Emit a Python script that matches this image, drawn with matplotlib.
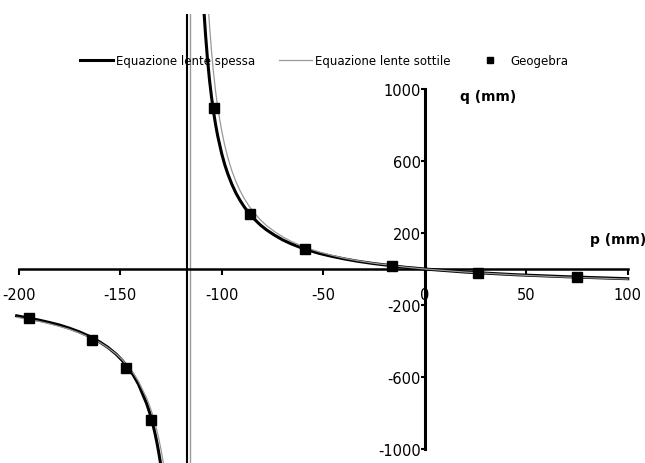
import numpy as np
import matplotlib
matplotlib.use('Agg')
import matplotlib.pyplot as plt

plt.rcParams['axes.unicode_minus'] = False

# values
# thick lens equation (black curve), two branches
p_spessa_dx = [-109.1, -108.6, -108, -107, -106, -105, -104, -103, -102, -100, -98.5, -97, -95, -93, -91,
               -89, -86.5, -84, -81, -78, -74, -70, -66, -62, -57, -52, -46, -40, -33, -25, -10, 0, 20, 45, 70, 100]
q_spessa_dx = [1500, 1409, 1308, 1166, 1050, 954, 872, 802, 741, 641, 580, 529, 471, 422, 382,
               347, 309, 278, 245, 218, 188, 162, 141, 123, 104, 87, 71, 57, 43, 30, 10, 0, -17, -32, -43, -54]
p_spessa_sx = [-201, -190, -185, -180, -175, -170, -165, -160, -156, -152, -149, -146, -143.5, -141,
               -137, -135.5, -134, -133, -132, -131, -130.2, -129.3]
q_spessa_sx = [-260, -284, -297, -311, -329, -350, -375, -406, -436, -473, -508, -549, -590, -640,
               -747, -798, -859, -906, -959, -1020, -1075, -1150]

# thin lens equation (grey curve)
p_sottile_dx = [-106.8, -106.4, -106, -105, -104, -103, -102, -100, -98.5, -97, -95, -93, -91, -89,
                -86.5, -84, -81, -78, -74, -70, -66, -62, -57, -52, -46, -40, -33, -25, -10, 0, 20, 45, 70, 100]
q_sottile_dx = [1500, 1423, 1354, 1208, 1087, 987, 902, 767, 687, 620, 546, 486, 436, 394,
                349, 312, 274, 242, 208, 179, 155, 135, 113, 95, 77, 61, 46, 32, 11, 0, -17, -33, -45, -56]
p_sottile_sx = [-201, -190, -185, -180, -175, -170, -165, -160, -156, -152, -149, -146, -143.5, -141,
                -137, -135.5, -134, -132.5, -131, -129.8, -128.7, -127.8]
q_sottile_sx = [-268, -291, -304, -319, -335, -356, -380, -409, -438, -472, -504, -542, -579, -624,
                -716, -760, -811, -871, -942, -1009, -1080, -1150]

# asymptotes
asint_spessa = -117.2
asint_sottile = -115.4

# Geogebra points
p_geo = [-195, -164, -147, -135, -104, -86, -59, -16, 26, 75]
q_geo = [-274, -393, -548, -837, 894, 305, 111, 17, -20, -44]

xticks = [-200, -150, -100, -50, 0, 50, 100]
yticks = [-1000, -600, -200, 200, 600, 1000]

W, H = 645, 464
fig = plt.figure(figsize=(W / 100, H / 100), dpi=100)
ax = fig.add_axes([0, 0, 1, 449 / H])
ax.set_xlim(-209.2, 108.5)
ax.set_ylim(-1078, 1417)

ax.axvline(asint_spessa, color='black', lw=1.5, zorder=2)
ax.axvline(asint_sottile, color='#999999', lw=1.0, zorder=2)

ax.plot(p_spessa_dx, q_spessa_dx, color='black', lw=2.2, label='Equazione lente spessa', zorder=3)
ax.plot(p_spessa_sx, q_spessa_sx, color='black', lw=2.2, zorder=3)
ax.plot(p_sottile_dx, q_sottile_dx, color='#999999', lw=0.9, label='Equazione lente sottile', zorder=4)
ax.plot(p_sottile_sx, q_sottile_sx, color='#999999', lw=0.9, zorder=4)
ax.plot(p_geo, q_geo, 's', color='black', ms=7.5, label='Geogebra', zorder=5)

for s in ['top', 'right']:
    ax.spines[s].set_visible(False)
ax.spines['left'].set_position(('data', 0))
ax.spines['bottom'].set_position(('data', 0))
ax.spines['left'].set_bounds(-1000, 1000)
ax.spines['bottom'].set_bounds(-200, 100)
ax.spines['left'].set_linewidth(2.2)
ax.spines['bottom'].set_linewidth(1.8)

ax.set_xticks(xticks)
ax.set_yticks(yticks)
ax.tick_params(axis='x', direction='out', length=4, width=1.5, pad=9, labelsize=10.5)
ax.tick_params(axis='y', direction='out', length=3, width=1.5, pad=0, labelsize=10.5)
ax.patch.set_alpha(0)

ax.text(17.4, 961, 'q (mm)', fontsize=10, fontweight='bold', va='center', ha='left')
ax.text(81.4, 167, 'p (mm)', fontsize=10, fontweight='bold', va='center', ha='left')

fig.legend(loc='center', bbox_to_anchor=(324 / W, 1 - 62 / H), ncol=3, frameon=False,
           fontsize=8.5, handlelength=2.8, handletextpad=0.25, columnspacing=2.0,
           numpoints=1, markerscale=0.55)

fig.savefig('out.png', dpi=100)
